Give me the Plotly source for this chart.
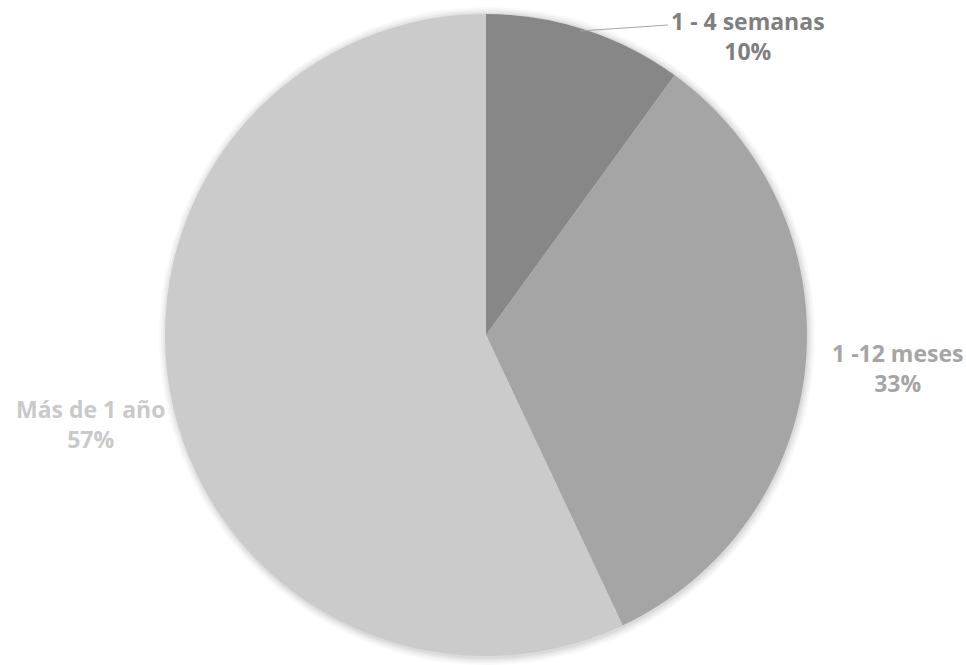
import plotly.graph_objects as go

categories = ["1 - 4 semanas", "1 -12 meses", "Más de 1 año"]
values = [10, 33, 57]
slice_colors = ["#878787", "#a5a5a5", "#cbcbcb"]
label_colors = ["#7f7f7f", "#a5a5a5", "#c9c9c9"]

W, H = 966, 665
cx, cy, r = 486, 335, 321

fig = go.Figure()
fig.add_trace(go.Pie(
    labels=categories, values=values, sort=False, direction="clockwise",
    rotation=0, marker=dict(colors=slice_colors, line=dict(width=0)),
    textinfo="none", hoverinfo="label+percent", showlegend=False,
    domain=dict(x=[(cx - r) / W, (cx + r) / W], y=[1 - (cy + r) / H, 1 - (cy - r) / H]),
))

# soft shadow
for d, op in [(7, 0.025), (5, 0.03), (3, 0.04), (1, 0.05)]:
    fig.add_shape(type="circle", xref="paper", yref="paper", layer="below",
                  x0=(cx - r - d + 1) / W, x1=(cx + r + d + 1) / W,
                  y0=1 - (cy + r + d + 2) / H, y1=1 - (cy - r - d) / H,
                  fillcolor=f"rgba(0,0,0,{op})", line=dict(width=0))

pos = [(748, 36), (897, 368), (90, 424)]
tot = sum(values)
for cat, v, col, (x, y) in zip(categories, values, label_colors, pos):
    fig.add_annotation(x=x / W, y=1 - y / H, xref="paper", yref="paper",
                       text=f"<b>{cat}</b><br><b>{round(v / tot * 100)}%</b>",
                       showarrow=False, font=dict(family="Open Sans", size=23, color=col),
                       align="center", xanchor="center", yanchor="middle")

fig.add_shape(type="line", xref="paper", yref="paper", x0=580 / W, y0=1 - 31 / H,
              x1=668 / W, y1=1 - 25 / H, line=dict(color="#a6a6a6", width=1))

fig.update_layout(width=W, height=H, margin=dict(l=0, r=0, t=0, b=0),
                  paper_bgcolor="white", plot_bgcolor="white")
fig.write_html("out.html")
